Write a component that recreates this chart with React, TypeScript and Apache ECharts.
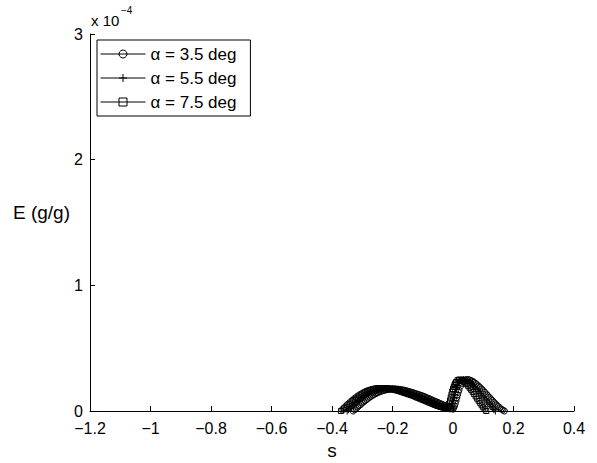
import React, { useEffect, useRef } from "react";
import * as echarts from "echarts";

// E values are in units of 1e-4 (g/g)
const S_35 = [-0.330,-0.325,-0.320,-0.315,-0.310,-0.305,-0.300,-0.295,-0.290,-0.285,-0.280,-0.275,-0.270,-0.265,-0.260,-0.255,-0.250,-0.245,-0.240,-0.235,-0.230,-0.225,-0.220,-0.215,-0.210,-0.205,-0.200,-0.195,-0.190,-0.185,-0.180,-0.175,-0.170,-0.165,-0.160,-0.155,-0.150,-0.145,-0.140,-0.135,-0.130,-0.125,-0.120,-0.115,-0.110,-0.105,-0.100,-0.095,-0.090,-0.085,-0.080,-0.075,-0.070,-0.065,-0.060,-0.055,-0.050,-0.045,-0.040,-0.035,-0.030,-0.025,-0.020,-0.015,-0.010,-0.005,0.000,0.0025,0.005,0.0075,0.010,0.0125,0.015,0.0175,0.020,0.025,0.030,0.035,0.040,0.045,0.050,0.055,0.060,0.065,0.070,0.075,0.080,0.085,0.090,0.095,0.100,0.105,0.110,0.115,0.120,0.125,0.130,0.135,0.140,0.145,0.150,0.155,0.160,0.165,0.170];
const E_35 = [0.000,0.010,0.020,0.031,0.042,0.052,0.063,0.073,0.083,0.092,0.101,0.110,0.118,0.125,0.132,0.139,0.145,0.150,0.155,0.159,0.163,0.166,0.169,0.171,0.173,0.174,0.175,0.175,0.175,0.174,0.173,0.171,0.169,0.167,0.164,0.161,0.158,0.155,0.151,0.148,0.144,0.140,0.136,0.132,0.128,0.124,0.120,0.115,0.110,0.104,0.099,0.094,0.089,0.083,0.078,0.073,0.068,0.062,0.057,0.052,0.047,0.041,0.036,0.031,0.026,0.020,0.015,0.026,0.040,0.060,0.082,0.106,0.128,0.150,0.168,0.198,0.220,0.236,0.245,0.249,0.250,0.247,0.242,0.236,0.228,0.219,0.209,0.198,0.187,0.175,0.162,0.149,0.136,0.123,0.110,0.097,0.084,0.071,0.059,0.047,0.036,0.025,0.015,0.007,0.000];

const S_55 = [-0.350,-0.345,-0.340,-0.335,-0.330,-0.325,-0.320,-0.315,-0.310,-0.305,-0.300,-0.295,-0.290,-0.285,-0.280,-0.275,-0.270,-0.265,-0.260,-0.255,-0.250,-0.245,-0.240,-0.235,-0.230,-0.225,-0.220,-0.215,-0.210,-0.205,-0.200,-0.195,-0.190,-0.185,-0.180,-0.175,-0.170,-0.165,-0.160,-0.155,-0.150,-0.145,-0.140,-0.135,-0.130,-0.125,-0.120,-0.115,-0.110,-0.105,-0.100,-0.095,-0.090,-0.085,-0.080,-0.075,-0.070,-0.065,-0.060,-0.055,-0.050,-0.045,-0.040,-0.035,-0.030,-0.025,-0.020,-0.015,-0.010,-0.0075,-0.005,-0.0025,0.000,0.0025,0.005,0.0075,0.010,0.0125,0.015,0.020,0.025,0.030,0.035,0.040,0.045,0.050,0.055,0.060,0.065,0.070,0.075,0.080,0.085,0.090,0.095,0.100,0.105,0.110,0.115,0.120,0.125,0.130,0.135,0.140];
const E_55 = [0.000,0.010,0.021,0.032,0.043,0.054,0.065,0.075,0.085,0.095,0.104,0.113,0.121,0.129,0.136,0.143,0.149,0.154,0.159,0.163,0.167,0.170,0.173,0.175,0.177,0.178,0.179,0.179,0.179,0.178,0.177,0.175,0.173,0.171,0.168,0.165,0.162,0.159,0.155,0.152,0.148,0.144,0.140,0.136,0.132,0.128,0.124,0.119,0.114,0.109,0.104,0.099,0.094,0.089,0.084,0.079,0.074,0.069,0.064,0.059,0.054,0.049,0.044,0.039,0.034,0.029,0.024,0.019,0.016,0.024,0.038,0.058,0.080,0.104,0.128,0.150,0.170,0.188,0.203,0.226,0.240,0.248,0.250,0.249,0.245,0.238,0.229,0.219,0.208,0.196,0.183,0.169,0.155,0.140,0.125,0.110,0.095,0.080,0.065,0.051,0.037,0.024,0.011,0.000];

const S_75 = [-0.370,-0.365,-0.360,-0.355,-0.350,-0.345,-0.340,-0.335,-0.330,-0.325,-0.320,-0.315,-0.310,-0.305,-0.300,-0.295,-0.290,-0.285,-0.280,-0.275,-0.270,-0.265,-0.260,-0.255,-0.250,-0.245,-0.240,-0.235,-0.230,-0.225,-0.220,-0.215,-0.210,-0.205,-0.200,-0.195,-0.190,-0.185,-0.180,-0.175,-0.170,-0.165,-0.160,-0.155,-0.150,-0.145,-0.140,-0.135,-0.130,-0.125,-0.120,-0.115,-0.110,-0.105,-0.100,-0.095,-0.090,-0.085,-0.080,-0.075,-0.070,-0.065,-0.060,-0.055,-0.050,-0.045,-0.040,-0.035,-0.030,-0.025,-0.020,-0.0175,-0.015,-0.0125,-0.010,-0.0075,-0.005,-0.0025,0.000,0.0025,0.005,0.0075,0.010,0.015,0.020,0.025,0.030,0.035,0.040,0.045,0.050,0.055,0.060,0.065,0.070,0.075,0.080,0.085,0.090,0.095,0.100,0.105,0.110];
const E_75 = [0.000,0.011,0.022,0.034,0.045,0.056,0.067,0.078,0.088,0.098,0.107,0.116,0.124,0.132,0.139,0.146,0.152,0.158,0.163,0.167,0.171,0.174,0.177,0.179,0.181,0.182,0.183,0.183,0.183,0.182,0.181,0.179,0.177,0.175,0.172,0.169,0.166,0.163,0.159,0.156,0.152,0.148,0.144,0.140,0.136,0.132,0.128,0.124,0.119,0.114,0.109,0.104,0.099,0.094,0.089,0.084,0.079,0.074,0.069,0.064,0.059,0.054,0.049,0.044,0.040,0.036,0.032,0.028,0.024,0.021,0.018,0.026,0.040,0.060,0.083,0.108,0.132,0.155,0.175,0.192,0.207,0.220,0.231,0.245,0.250,0.249,0.244,0.236,0.226,0.214,0.200,0.185,0.169,0.152,0.134,0.116,0.098,0.080,0.062,0.045,0.029,0.014,0.000];

const SERIES_NAMES = ["α = 3.5 deg", "α = 5.5 deg", "α = 7.5 deg"];
const X_TICKS = { min: -1.2, max: 0.4, interval: 0.2 };
const Y_TICKS = { min: 0, max: 3, interval: 1 };

const FONT = "'Liberation Sans', Arial, Helvetica, sans-serif";
const PLUS = "path://M5,0L5,10M0,5L10,5";

const pairs = (s: number[], e: number[]) => s.map((v, i) => [v, e[i]]);

const fmt = (v: number) => {
  const r = Math.round(v * 10) / 10;
  const t = String(Math.abs(r));
  return r < 0 ? "\u2212" + t : t;
};

export default function App() {
  const ref = useRef<HTMLDivElement>(null);
  useEffect(() => {
    if (!ref.current) return;
    const chart = echarts.init(ref.current, null, { renderer: "svg" });
    const mk = (name: string, data: number[][], symbol: string, size: number) => ({
      name,
      type: "line",
      data,
      symbol,
      symbolSize: size,
      showAllSymbol: true,
      lineStyle: { color: "#000", width: 0.8 },
      itemStyle: { color: "rgba(0,0,0,0)", borderColor: "#000", borderWidth: 1 },
      emphasis: { disabled: true },
      z: 3,
    });
    chart.setOption({
      animation: false,
      backgroundColor: "#fff",
      textStyle: { fontFamily: FONT },
      grid: { left: 90, right: 23, top: 34, bottom: 52, containLabel: false },
      xAxis: {
        type: "value",
        min: X_TICKS.min,
        max: X_TICKS.max,
        interval: X_TICKS.interval,
        axisLine: { show: true, onZero: false, lineStyle: { color: "#000", width: 1 } },
        axisTick: { show: true, inside: true, length: 5, lineStyle: { color: "#000" } },
        splitLine: { show: false },
        axisLabel: { color: "#000", fontSize: 16, fontFamily: FONT, margin: 9, formatter: fmt },
      },
      yAxis: {
        type: "value",
        min: Y_TICKS.min,
        max: Y_TICKS.max,
        interval: Y_TICKS.interval,
        axisLine: { show: true, onZero: false, lineStyle: { color: "#000", width: 1 } },
        axisTick: { show: true, inside: true, length: 5, lineStyle: { color: "#000" } },
        splitLine: { show: false },
        axisLabel: { color: "#000", fontSize: 16, fontFamily: FONT, margin: 7, formatter: (v: number) => String(v) },
      },
      legend: {
        orient: "vertical",
        left: 97,
        top: 40,
        itemWidth: 45,
        itemHeight: 10,
        itemGap: 6,
        padding: [5, 14, 5, 3],
        borderColor: "#000",
        borderWidth: 1,
        backgroundColor: "#fff",
        lineStyle: { color: "#000", width: 1 },
        itemStyle: { color: "rgba(0,0,0,0)", borderColor: "#000", borderWidth: 1 },
        textStyle: { color: "#000", fontSize: 17, lineHeight: 18, fontFamily: FONT },
        data: SERIES_NAMES,
      },
      graphic: [
        { type: "text", left: 13, top: 203, style: { text: "E (g/g)", fontSize: 19, fontFamily: FONT, fill: "#000" } },
        { type: "text", x: 332, y: 450, style: { text: "s", fontSize: 19, fontFamily: FONT, fill: "#000", align: "center", verticalAlign: "middle" } },
        { type: "text", x: 91, y: 20, style: { text: "x 10", fontSize: 15, fontFamily: FONT, fill: "#000", verticalAlign: "middle" } },
        { type: "text", x: 121, y: 10, style: { text: "\u22124", fontSize: 10, fontFamily: FONT, fill: "#000", verticalAlign: "middle" } },
      ],
      series: [
        mk(SERIES_NAMES[0], pairs(S_35, E_35), "circle", 6),
        mk(SERIES_NAMES[1], pairs(S_55, E_55), PLUS, 7),
        mk(SERIES_NAMES[2], pairs(S_75, E_75), "rect", 5),
      ],
    });
    return () => chart.dispose();
  }, []);
  return (
    <div
      ref={ref}
      style={{ position: "absolute", left: 0, top: 0, width: 597, height: 463, background: "#fff" }}
    />
  );
}
